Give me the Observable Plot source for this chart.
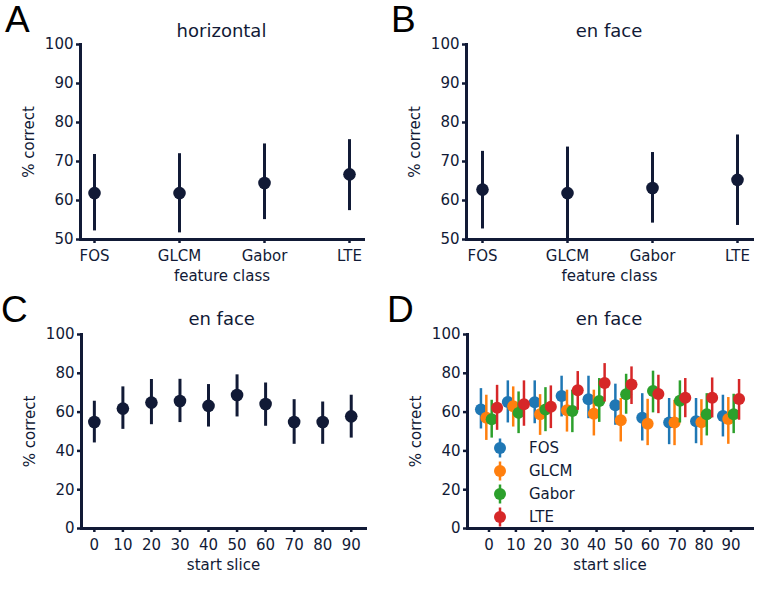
<!DOCTYPE html>
<html>
<head>
<meta charset="utf-8">
<script src="https://cdn.jsdelivr.net/npm/d3@7"></script>
<script src="https://cdn.jsdelivr.net/npm/@observablehq/plot@0.6"></script>
<style>
  body { margin: 0; background: #fff; }
  #fig { position: relative; width: 775px; height: 592px; overflow: hidden;
         font-family: "DejaVu Sans", sans-serif; color: #111a36; background: #fff; }
  .panel { position: absolute; }
  .letter { position: absolute; font-family: "Liberation Sans", sans-serif; font-size: 37px; line-height: 37px; color: #000; }
  .title { position: absolute; width: 200px; text-align: center; font-size: 18px; line-height: 18px; }
  .legend-icon { position: absolute; }
  .legend-label { position: absolute; font-size: 15px; line-height: 15px; white-space: nowrap; }
</style>
</head>
<body>
<div id="fig"></div>
<script>
// Feature classes compared in panels A, B and D
const featureClasses = ["FOS", "GLCM", "Gabor", "LTE"];

// A: horizontal sections, mean % correct with interval bounds
const horizontalMean = [61.9, 61.9, 64.5, 66.7];
const horizontalLow  = [52.2, 51.7, 55.1, 57.4];
const horizontalHigh = [71.8, 72.0, 74.5, 75.6];

// B: en face sections
const enFaceMean = [62.8, 61.9, 63.2, 65.3];
const enFaceLow  = [52.7, 50.0, 54.2, 53.6];
const enFaceHigh = [72.6, 73.7, 72.3, 76.8];

// C: en face, all features, by start slice
const startSlices = [0, 10, 20, 30, 40, 50, 60, 70, 80, 90];
const sliceMean = [54.9, 61.8, 64.9, 65.7, 63.2, 68.8, 64.2, 54.9, 54.9, 57.8];
const sliceLow  = [44.1, 51.1, 53.5, 54.6, 52.3, 57.5, 52.7, 43.4, 43.4, 46.6];
const sliceHigh = [65.6, 73.0, 76.8, 76.9, 74.2, 79.2, 75.0, 66.4, 65.2, 68.7];

// D: en face, per feature class, by start slice
const fosMean  = [61.4, 65.2, 65.1, 68.3, 66.6, 63.5, 57.1, 54.6, 55.3, 58.0];
const fosLow   = [51.3, 54.4, 54.0, 57.5, 56.6, 53.2, 45.1, 43.2, 43.7, 47.2];
const fosHigh  = [72.1, 76.1, 76.1, 78.5, 78.5, 74.4, 69.5, 67.0, 67.0, 68.7];
const glcmMean = [57.1, 63.0, 58.9, 60.9, 59.2, 55.8, 54.0, 54.6, 54.8, 56.5];
const glcmLow  = [45.4, 52.3, 48.0, 49.7, 47.7, 44.6, 42.7, 42.7, 42.7, 43.4];
const glcmHigh = [68.7, 73.0, 69.0, 71.3, 71.3, 67.0, 66.6, 66.1, 66.4, 67.5];
const gaborMean = [56.3, 59.6, 61.4, 60.6, 65.7, 69.2, 70.9, 65.8, 58.9, 58.9];
const gaborLow  = [46.6, 48.9, 49.9, 49.4, 54.7, 58.9, 59.6, 54.4, 47.7, 48.9];
const gaborHigh = [66.1, 70.4, 72.6, 71.3, 77.3, 79.5, 81.1, 76.1, 69.5, 69.2];
const lteMean = [62.2, 64.0, 62.7, 71.3, 75.0, 74.2, 69.3, 67.4, 67.4, 66.8];
const lteLow  = [50.6, 52.7, 51.5, 60.9, 65.2, 63.9, 59.2, 57.1, 57.0, 55.8];
const lteHigh = [73.8, 76.1, 73.5, 80.9, 85.0, 83.3, 79.0, 77.3, 77.6, 76.8];

const ink = "#111a36";
const seriesColors = ["#1f77b4", "#ff7f0e", "#2ca02c", "#d62728"];

const fig = document.getElementById("fig");

const baseStyle = {
  fontFamily: "DejaVu Sans, sans-serif",
  fontSize: "15px",
  color: ink,
  background: "none",
  overflow: "visible"
};

// Shared L-shaped axes: thick left and bottom spines with short ticks
function spines(xOpts, yOpts) {
  return [
    Plot.frame({anchor: "left", stroke: ink, strokeWidth: 3, strokeLinecap: "square"}),
    Plot.frame({anchor: "bottom", stroke: ink, strokeWidth: 3, strokeLinecap: "square"}),
    Plot.axisX({tickSize: 4, tickPadding: 7, strokeWidth: 2.5, stroke: ink,
                labelAnchor: "center", labelArrow: false, labelOffset: 41, ...xOpts}),
    Plot.axisY({tickSize: 4, tickPadding: 3, strokeWidth: 2.5, stroke: ink,
                label: "% correct", labelAnchor: "center", labelArrow: false, labelOffset: 57, ...yOpts})
  ];
}

function place(node, left, top) {
  const wrap = document.createElement("div");
  wrap.className = "panel";
  wrap.style.left = left + "px";
  wrap.style.top = top + "px";
  wrap.appendChild(node);
  fig.appendChild(wrap);
}

function addText(cls, text, left, top) {
  const el = document.createElement("div");
  el.className = cls;
  el.textContent = text;
  el.style.left = left + "px";
  el.style.top = top + "px";
  fig.appendChild(el);
  return el;
}

// Panels A and B: one point per feature class
function classPanel(means, lows, highs, {width, marginLeft, marginRight, padding}) {
  const rows = featureClasses.map((c, i) => ({cls: c, mean: means[i], low: lows[i], high: highs[i]}));
  return Plot.plot({
    width, height: 290,
    marginLeft, marginRight, marginTop: 44, marginBottom: 51,
    style: baseStyle,
    x: {type: "point", domain: featureClasses, padding},
    y: {domain: [50, 100]},
    marks: [
      ...spines({label: "feature class"}, {ticks: d3.range(50, 101, 10)}),
      Plot.ruleX(rows, {x: "cls", y1: "low", y2: "high", stroke: ink, strokeWidth: 3}),
      Plot.dot(rows, {x: "cls", y: "mean", r: 6.3, fill: ink, stroke: "none"})
    ]
  });
}

place(classPanel(horizontalMean, horizontalLow, horizontalHigh,
  {width: 385, marginLeft: 80, marginRight: 22, padding: 0.15}), 0, 0);
place(classPanel(enFaceMean, enFaceLow, enFaceHigh,
  {width: 390, marginLeft: 81, marginRight: 23, padding: 0.17}), 385, 0);

// Panel C: pooled accuracy by start slice
const sliceRows = startSlices.map((s, i) => ({slice: s, mean: sliceMean[i], low: sliceLow[i], high: sliceHigh[i]}));
place(Plot.plot({
  width: 385, height: 302,
  marginLeft: 81, marginRight: 20, marginTop: 44, marginBottom: 64,
  style: baseStyle,
  x: {domain: [-4.5, 95]},
  y: {domain: [0, 100]},
  marks: [
    ...spines({label: "start slice", ticks: startSlices, tickFormat: d3.format("d")},
              {ticks: d3.range(0, 101, 20)}),
    Plot.ruleX(sliceRows, {x: "slice", y1: "low", y2: "high", stroke: ink, strokeWidth: 3}),
    Plot.dot(sliceRows, {x: "slice", y: "mean", r: 6.3, fill: ink, stroke: "none"})
  ]
}), 0, 290);

// Panel D: one series per feature class, dodged around each start slice
const seriesStats = [
  [fosMean, fosLow, fosHigh],
  [glcmMean, glcmLow, glcmHigh],
  [gaborMean, gaborLow, gaborHigh],
  [lteMean, lteLow, lteHigh]
];
const dodge = [-3, -1, 1, 3];
const seriesMarks = seriesStats.flatMap(([m, lo, hi], k) => {
  const rows = startSlices.map((s, i) => ({slice: s, mean: m[i], low: lo[i], high: hi[i]}));
  const xd = d => d.slice + dodge[k];
  return [
    Plot.ruleX(rows, {x: xd, y1: "low", y2: "high", stroke: seriesColors[k], strokeWidth: 2.5}),
    Plot.dot(rows, {x: xd, y: "mean", r: 6, fill: seriesColors[k], stroke: "none"})
  ];
});
place(Plot.plot({
  width: 390, height: 302,
  marginLeft: 82, marginRight: 23, marginTop: 44, marginBottom: 64,
  style: baseStyle,
  x: {domain: [-8, 98]},
  y: {domain: [0, 100]},
  marks: [
    ...spines({label: "start slice", ticks: startSlices, tickFormat: d3.format("d")},
              {ticks: d3.range(0, 101, 20)}),
    ...seriesMarks
  ]
}), 385, 290);

// Legend for panel D
const legendRows = [448.3, 471, 494, 516.7];
featureClasses.forEach((name, k) => {
  const cy = legendRows[k];
  const svg = d3.create("svg").attr("width", 20).attr("height", 22)
    .attr("class", "legend-icon")
    .style("left", "489.5px").style("top", (cy - 11) + "px");
  svg.append("line").attr("x1", 10).attr("x2", 10).attr("y1", 1.5).attr("y2", 20.5)
    .attr("stroke", seriesColors[k]).attr("stroke-width", 2.5);
  svg.append("circle").attr("cx", 10).attr("cy", 11).attr("r", 6).attr("fill", seriesColors[k]);
  fig.appendChild(svg.node());
  addText("legend-label", name, 529, cy - 7.2);
});

// Panel letters and titles
addText("letter", "A", 5, 1.2);
addText("letter", "B", 391, 1.2);
addText("letter", "C", 1, 291);
addText("letter", "D", 387, 291);
addText("title", "horizontal", 121.5, 21.5);
addText("title", "en face", 509, 21.5);
addText("title", "en face", 121.7, 309.8);
addText("title", "en face", 509, 309.8);
</script>
</body>
</html>
